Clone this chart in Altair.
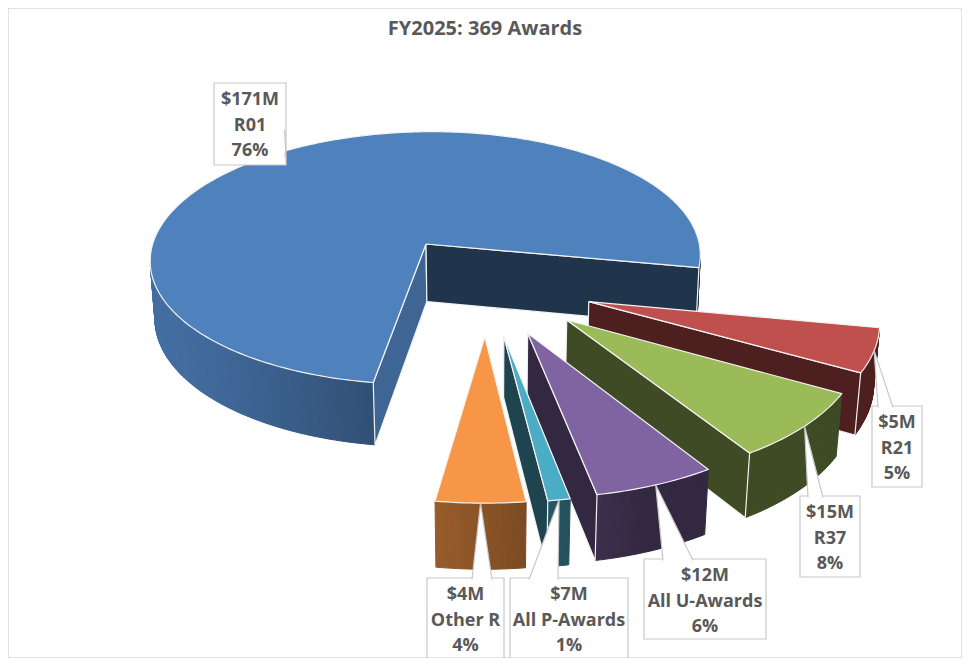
import math

import altair as alt
import pandas as pd

# values (award counts;
# they round to the printed shares 76/5/8/6/1/4 % of 369 awards)
categories = ["R01", "R21", "R37", "All U-Awards", "All P-Awards", "Other R"]
funding = ["$171M", "$5M", "$15M", "$12M", "$7M", "$4M"]
awards = [279, 19, 29, 22, 4, 16]
colors = ["#4F81BD", "#C0504D", "#9BBB59", "#8064A2", "#4BACC6", "#F79646"]
chart_title = "FY2025: 369 Awards"

# callout boxes (chart pixels): centre, size, and where the pointer joins the box
callouts = {
    "R01": dict(cx=242, cy=116, w=72, h=82, side="right", a=122, b=149),
    "R21": dict(cx=889, cy=438.5, w=50, h=81, side="top", a=870, b=885),
    "R37": dict(cx=822, cy=528.5, w=60, h=81, side="top", a=800, b=815),
    "All U-Awards": dict(cx=697, cy=591, w=122, h=80, side="top", a=655, b=685),
    "All P-Awards": dict(cx=561, cy=610, w=118, h=80, side="top", a=521, b=550),
    "Other R": dict(cx=457.5, cy=610, w=77, h=80, side="top", a=464, b=484),
}

W, H = 954, 650

# 3-D pie view (Excel style): tilt, perspective, thickness, explosion
SCALE = 283.0
TILT = math.radians(28.2)
EYE = 7.7
THICK = 0.24
EXPLODE = 0.38
START = 188.5
CAM = (0.0, EYE * math.cos(TILT), EYE * math.sin(TILT))


def project_raw(px, py, pz):
    depth = py * math.cos(TILT) + pz * math.sin(TILT)
    f = EYE / (EYE - depth)
    return SCALE * f * px, SCALE * f * (py * math.sin(TILT) - pz * math.cos(TILT))


# place the pie so the R01 apex lands where it sits in the reference
_mid0 = math.radians(START + 180.0 * awards[0] / sum(awards))
_ax, _ay = project_raw(EXPLODE * math.sin(_mid0), -EXPLODE * math.cos(_mid0), 0)
CX, CY = 418.0 - _ax, 236.0 - _ay


def project(px, py, pz):
    x, y = project_raw(px, py, pz)
    return CX + x, CY + y


def shade(hexcol, k):
    r, g, b = (int(hexcol[i:i + 2], 16) for i in (1, 3, 5))
    return "#%02x%02x%02x" % (round(r * k), round(g * k), round(b * k))


def facing(angle_deg, point):
    a = math.radians(angle_deg)
    n = (math.sin(a), -math.cos(a))
    return n[0] * (CAM[0] - point[0]) + n[1] * (CAM[1] - point[1]) > 0


rows = []
counter = [0]


def add_poly(points, fill, stroke, width, closed=True):
    pid = counter[0]
    counter[0] += 1
    pts = list(points) + ([points[0]] if closed else [])
    for k, (x, y) in enumerate(pts):
        rows.append(dict(pid=pid, v=k, x=x, y=y, fill=fill, stroke=stroke, sw=width))


anchors = {}
total = sum(awards)
cum = 0
for name, count, col in zip(categories, awards, colors):
    t1 = START + 360.0 * cum / total
    t2 = START + 360.0 * (cum + count) / total
    cum += count
    mid = (t1 + t2) / 2
    ox = EXPLODE * math.sin(math.radians(mid))
    oy = -EXPLODE * math.cos(math.radians(mid))

    def rim(t, z=0.0):
        a = math.radians(t)
        return (ox + math.sin(a), oy - math.cos(a), z)

    apex_top = project(ox, oy, 0)
    apex_bot = project(ox, oy, -THICK)

    # outer wall, in thin strips so the shading runs across it
    n = max(1, math.ceil((t2 - t1) / 0.75))
    for i in range(n):
        a = t1 + (t2 - t1) * i / n
        b = t1 + (t2 - t1) * (i + 1) / n
        m = (a + b) / 2
        if not facing(m, rim(m)):
            continue
        k = 0.40 + 0.45 * max(0.0, math.cos(math.radians(m - 250)))
        c = shade(col, k)
        quad = [project(*rim(a)), project(*rim(b)), project(*rim(b, -THICK)), project(*rim(a, -THICK))]
        add_poly(quad, c, c, 1.0)

    # radial cut faces
    if facing(t1 - 90, (ox, oy)):
        face = [apex_top, project(*rim(t1)), project(*rim(t1, -THICK)), apex_bot]
        add_poly(face, shade(col, 0.78), "#f2f2f2", 1.2)
    if facing(t2 + 90, (ox, oy)):
        face = [apex_top, project(*rim(t2)), project(*rim(t2, -THICK)), apex_bot]
        add_poly(face, shade(col, 0.40), "#f2f2f2", 1.2)

    # top face
    steps = max(2, math.ceil(t2 - t1))
    top = [apex_top] + [project(*rim(t1 + (t2 - t1) * i / steps)) for i in range(steps + 1)]
    add_poly(top, col, "#f2f2f2", 1.2)

    anchors[name] = project(*rim(mid))

faces = pd.DataFrame(rows)

xs = alt.Scale(domain=[0, W], nice=False, zero=False)
ys = alt.Scale(domain=[0, H], nice=False, zero=False, reverse=True)

pie = alt.Chart(faces).mark_line(strokeJoin="round").encode(
    x=alt.X("x:Q", scale=xs, axis=None),
    y=alt.Y("y:Q", scale=ys, axis=None),
    detail="pid:N",
    order="v:Q",
    fill=alt.Fill("fill:N", scale=None),
    stroke=alt.Stroke("stroke:N", scale=None),
    strokeWidth=alt.StrokeWidth("sw:Q", scale=None),
)

# callout boxes, pointers and text
box_rows, ptr_rows, text_rows = [], [], []
for name, money, count in zip(categories, funding, awards):
    c = callouts[name]
    x0, x1 = c["cx"] - c["w"] / 2, c["cx"] + c["w"] / 2
    y0, y1 = c["cy"] - c["h"] / 2, c["cy"] + c["h"] / 2
    box_rows.append(dict(x0=x0, x1=x1, y0=y0, y1=y1))
    tip = anchors[name]
    if c["side"] == "top":
        base = [(c["a"], y0 + 1.5), tip, (c["b"], y0 + 1.5)]
    else:
        base = [(x1 - 1.5, c["a"]), tip, (x1 - 1.5, c["b"])]
    for k, (x, y) in enumerate(base):
        ptr_rows.append(dict(pid=name, v=k, x=x, y=y))
    pct = round(100 * count / total)
    for k, line in enumerate([money, name, f"{pct}%"]):
        text_rows.append(dict(x=c["cx"], y=y0 + 17 + 25.5 * k, t=line))

boxes = alt.Chart(pd.DataFrame(box_rows)).mark_rect(
    fill="white", stroke="#c8c8c8", strokeWidth=1.2
).encode(
    x=alt.X("x0:Q", scale=xs, axis=None), x2="x1:Q",
    y=alt.Y("y0:Q", scale=ys, axis=None), y2="y1:Q",
)

pointers = alt.Chart(pd.DataFrame(ptr_rows)).mark_line(
    fill="white", stroke="#c8c8c8", strokeWidth=1.2
).encode(
    x=alt.X("x:Q", scale=xs, axis=None),
    y=alt.Y("y:Q", scale=ys, axis=None),
    detail="pid:N",
    order="v:Q",
)

labels = alt.Chart(pd.DataFrame(text_rows)).mark_text(
    font="Open Sans", fontSize=18, fontWeight="bold", color="#595959",
    align="center", baseline="middle",
).encode(
    x=alt.X("x:Q", scale=xs, axis=None),
    y=alt.Y("y:Q", scale=ys, axis=None),
    text="t:N",
)

title = alt.Chart(pd.DataFrame({"x": [W / 2], "y": [21], "t": [chart_title]})).mark_text(
    font="Open Sans", fontSize=20, fontWeight="bold", color="#595959",
    align="center", baseline="middle",
).encode(
    x=alt.X("x:Q", scale=xs, axis=None),
    y=alt.Y("y:Q", scale=ys, axis=None),
    text="t:N",
)

chart = alt.layer(pie, boxes, pointers, labels, title).properties(
    width=W, height=H, padding=0, autosize=alt.AutoSizeParams(type="none")
).configure_view(stroke="#d9d9d9", strokeWidth=1.5)

chart.save("out.html", embed_options={"renderer": "svg", "actions": False})
